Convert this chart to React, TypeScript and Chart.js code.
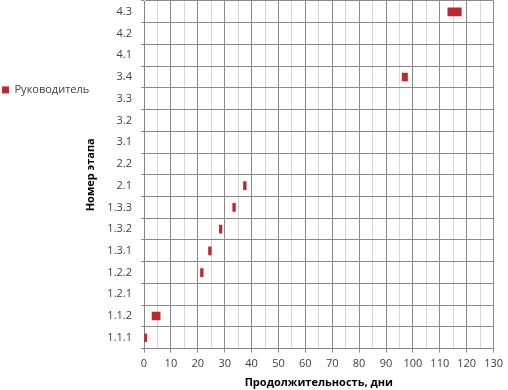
import React, { useEffect, useRef } from "react";
import { Chart, registerables } from "chart.js";

Chart.register(...registerables);

const categories = ["1.1.1", "1.1.2", "1.2.1", "1.2.2", "1.3.1", "1.3.2", "1.3.3", "2.1", "2.2", "3.1", "3.2", "3.3", "3.4", "4.1", "4.2", "4.3"];
const starts: (number | null)[] = [0, 3, null, 21, 24, 28, 33, 37, null, null, null, null, 96, null, null, 113];
const durations: (number | null)[] = [1, 3, null, 1, 1, 1, 1, 1, null, null, null, null, 2, null, null, 5];
const seriesName = "Руководитель";
const xTitle = "Продолжительность, дни";
const yTitle = "Номер этапа";

const FONT = "'Open Sans', sans-serif";

const legendWidthPlugin = {
  id: "legendWidth",
  beforeLayout(chart: any) {
    const lg = chart.legend;
    if (lg && !lg.__patched) {
      const orig = lg.fit.bind(lg);
      lg.fit = function () {
        orig();
        this.width = 93;
      };
      lg.__patched = true;
    }
  },
};

export default function App() {
  const ref = useRef<HTMLCanvasElement | null>(null);
  useEffect(() => {
    if (!ref.current) return;
    const data = starts.map((s, i) => (s == null || durations[i] == null ? null : [s, s + (durations[i] as number)]));
    const chart = new Chart(ref.current, {
      type: "bar",
      data: {
        labels: categories,
        datasets: [
          {
            label: seriesName,
            data: data as any,
            backgroundColor: "#C0282D",
            borderWidth: 0,
            barThickness: 8,
            borderSkipped: false,
          },
        ],
      },
      plugins: [legendWidthPlugin],
      options: {
        responsive: false,
        animation: false,
        indexAxis: "y",
        layout: { padding: { left: 0, right: 12, top: 1, bottom: 1 } },
        plugins: {
          tooltip: { enabled: false },
          legend: {
            position: "left",
            align: "start",
            title: { display: true, text: "", padding: { top: 67, bottom: 0 } },
            labels: {
              boxWidth: 7,
              boxHeight: 7,
              padding: 2,
              color: "#404040",
              font: { family: FONT, size: 11 },
            },
          },
        },
        scales: {
          x: {
            min: 0,
            max: 130,
            border: { display: true, color: "#868686" },
            ticks: {
              stepSize: 5,
              autoSkip: false,
              maxRotation: 0,
              padding: 5,
              color: "#404040",
              font: { family: FONT, size: 11 },
              callback: (v: any) => (Number(v) % 10 === 0 ? String(v) : ""),
            },
            grid: {
              color: (c: any) => (c.tick && c.tick.value % 10 === 0 ? "#8a8a8a" : "#d4d4d4"),
              tickColor: (c: any) => (c.tick && c.tick.value % 10 === 0 ? "#8a8a8a" : "rgba(0,0,0,0)"),
              tickLength: 4,
              lineWidth: 1,
            },
            title: {
              display: true,
              text: xTitle,
              color: "#000",
              font: { family: FONT, size: 11, weight: "bold" },
              padding: { top: 0, bottom: 0 },
            },
          },
          y: {
            reverse: true,
            border: { display: true, color: "#868686" },
            afterFit: (scale: any) => {
              scale.width = 51;
              scale.paddingTop = 0;
              scale.paddingBottom = 0;
            },
            ticks: {
              padding: 9,
              color: "#404040",
              font: { family: FONT, size: 11 },
            },
            grid: {
              offset: true,
              color: "#8a8a8a",
              tickLength: 3,
            },
            title: {
              display: true,
              text: yTitle,
              color: "#000",
              font: { family: FONT, size: 11, weight: "bold" },
              padding: { top: -9, bottom: 0 },
            },
          },
        },
      },
    });
    return () => chart.destroy();
  }, []);
  return (
    <div style={{ position: "absolute", left: 0, top: 0, width: 508, height: 390, background: "#fff" }}>
      <canvas ref={ref} width={508} height={390} />
    </div>
  );
}
